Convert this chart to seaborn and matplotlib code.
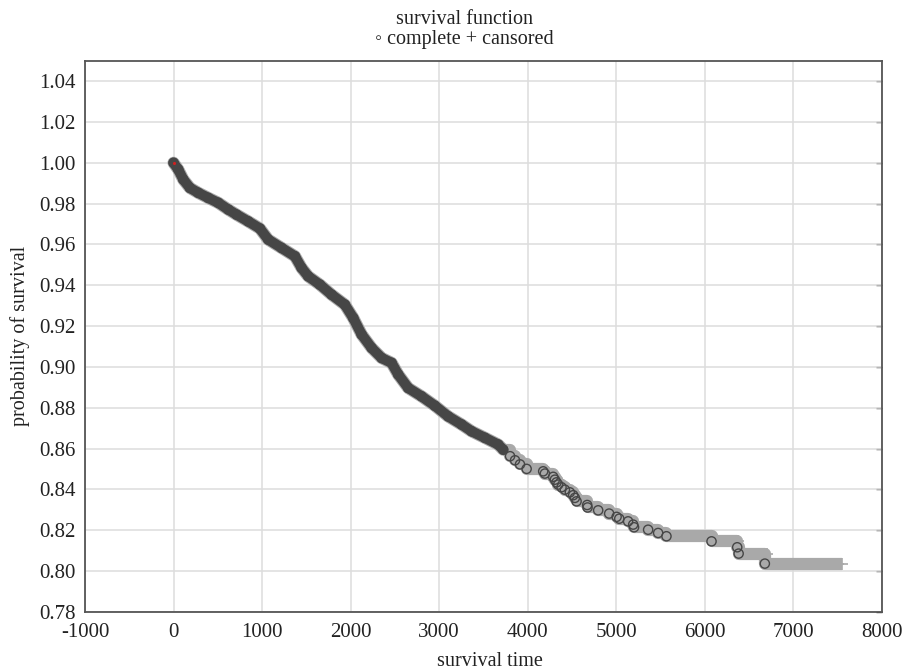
import numpy as np
import pandas as pd
import matplotlib
matplotlib.use("Agg")
import matplotlib.pyplot as plt
import seaborn as sns

# ---- data ----
# event (complete) observations: survival time and Kaplan-Meier level
event_time = [0, 53, 110, 185, 279, 392, 505, 618, 712, 843, 975, 1069, 1220,
              1371, 1446, 1521, 1653, 1785, 1935, 2029, 2124, 2237, 2350, 2462,
              2537, 2650, 2801, 2951, 3101, 3253, 3366, 3516, 3666, 3723,
              3800, 3856, 3912, 3987, 4174, 4193, 4287, 4306, 4325, 4343, 4381,
              4419, 4475, 4513, 4532, 4551, 4671, 4675, 4795, 4919, 5003, 5033,
              5133, 5190, 5200, 5359, 5472, 5566, 6075, 6365, 6381, 6677]
event_surv = [1.0, 0.9967, 0.9918, 0.9877, 0.9853, 0.9828, 0.9804, 0.9771,
              0.9746, 0.9713, 0.9678, 0.9624, 0.9583, 0.9542, 0.9485, 0.9444,
              0.9403, 0.9354, 0.9305, 0.9240, 0.9159, 0.9093, 0.9044, 0.9020,
              0.8963, 0.8897, 0.8856, 0.8810, 0.8758, 0.8718, 0.8685, 0.8653,
              0.8620, 0.8595, 0.8563, 0.8543, 0.8523, 0.8501, 0.8489, 0.8478,
              0.8462, 0.8448, 0.8435, 0.8424, 0.8411, 0.8399, 0.8386, 0.8372,
              0.8359, 0.8342, 0.8324, 0.8312, 0.8298, 0.8282, 0.8266, 0.8257,
              0.8244, 0.8228, 0.8215, 0.8203, 0.8187, 0.8171, 0.8146, 0.8117,
              0.8086, 0.8037]
dense_count = 34          # events so close together they form a solid band

# individually visible censored observations (end of the censored bands)
cens_time = [6376, 6700, 7487, 7506, 7544]
cens_surv = [0.8146, 0.8086, 0.8037, 0.8037, 0.8037]

x_ticks = [-1000, 0, 1000, 2000, 3000, 4000, 5000, 6000, 7000, 8000]
y_ticks = [0.78, 0.80, 0.82, 0.84, 0.86, 0.88, 0.90, 0.92, 0.94, 0.96, 0.98,
           1.00, 1.02, 1.04]

# ---- style ----
sns.set_style("white")
plt.rcParams['font.family'] = ['Liberation Serif', 'DejaVu Serif']
plt.rcParams['axes.unicode_minus'] = False

W, H = 907, 672
fig = plt.figure(figsize=(W / 100, H / 100), dpi=100)
ax = fig.add_axes([85 / W, 1 - 612 / H, (882 - 85) / W, (612 - 60.7) / H])

events = pd.DataFrame({"time": event_time, "surv": event_surv})
dense = events.iloc[:dense_count]
sparse = events.iloc[dense_count - 1:]
step_df = pd.DataFrame({"time": list(sparse["time"]) + [cens_time[-1]],
                        "surv": list(sparse["surv"]) + [event_surv[-1]]})

grey = "#a9a9a9"
dark = "#464646"

# censored "+" band around the dense run
sns.lineplot(data=dense, x="time", y="surv", ax=ax, estimator=None, sort=False,
             color=grey, linewidth=8.8, solid_capstyle="round", zorder=2)
# censored "+" band following the step function in the sparse part
sns.lineplot(data=step_df, x="time", y="surv", ax=ax, estimator=None, sort=False,
             drawstyle="steps-post", color=grey, linewidth=8.8,
             solid_capstyle="butt", zorder=2)
# dense run of complete observations
sns.lineplot(data=dense, x="time", y="surv", ax=ax, estimator=None, sort=False,
             color=dark, linewidth=7.3, solid_capstyle="round", zorder=3)
# complete observations (circles)
sns.scatterplot(data=events, x="time", y="surv", ax=ax, marker="o", s=44,
                facecolor="none", edgecolor=dark, linewidth=1.0, zorder=4)
# censored observations (+)
sns.scatterplot(x=cens_time, y=cens_surv, ax=ax, marker="+", s=80,
                color=grey, linewidth=1.2, zorder=2)
# first point highlight
sns.scatterplot(x=event_time[:1], y=event_surv[:1], ax=ax, marker="o", s=5,
                color="#d02020", linewidth=0, zorder=5)

ax.set_xlim(-1000, 8000)
ax.set_ylim(0.78, 1.05)
ax.set_xticks(x_ticks)
ax.set_xticklabels([str(v) for v in x_ticks])
ax.set_yticks(y_ticks)
ax.set_yticklabels([f"{v:.2f}" for v in y_ticks])
ax.set_xlabel("")
ax.set_ylabel("")
ax.grid(True, color="#dddddd", linewidth=1.1)
ax.set_axisbelow(True)
for sp in ax.spines.values():
    sp.set_color("#555555")
    sp.set_linewidth(1.3)
    sp.set_visible(True)

ax.tick_params(axis="x", direction="in", length=4, width=1, color="#333333",
               labelsize=15, pad=8, labelcolor="#222222")
ax.tick_params(axis="y", direction="out", length=4, width=1, color="#333333",
               labelsize=15, pad=3, labelcolor="#222222")
sec = ax.secondary_yaxis("right")
sec.set_yticks(y_ticks)
sec.tick_params(direction="in", length=4, width=1, color="#333333",
                labelright=False)
sec.spines["right"].set_visible(False)

txt = dict(color="#222222", fontsize=14.5)
fig.text(464 / W, 1 - 24 / H, "survival function", ha="center",
         va="baseline", **txt)
fig.text(464 / W, 1 - 44 / H, "\u25e6 complete + cansored", ha="center",
         va="baseline", **txt)
fig.text(490 / W, 1 - 666 / H, "survival time", ha="center", va="baseline",
         **txt)
fig.text(20 / W, 1 - 336 / H, "probability of survival", ha="center",
         va="center", rotation=90, **txt)

fig.savefig("out.png", dpi=100)
